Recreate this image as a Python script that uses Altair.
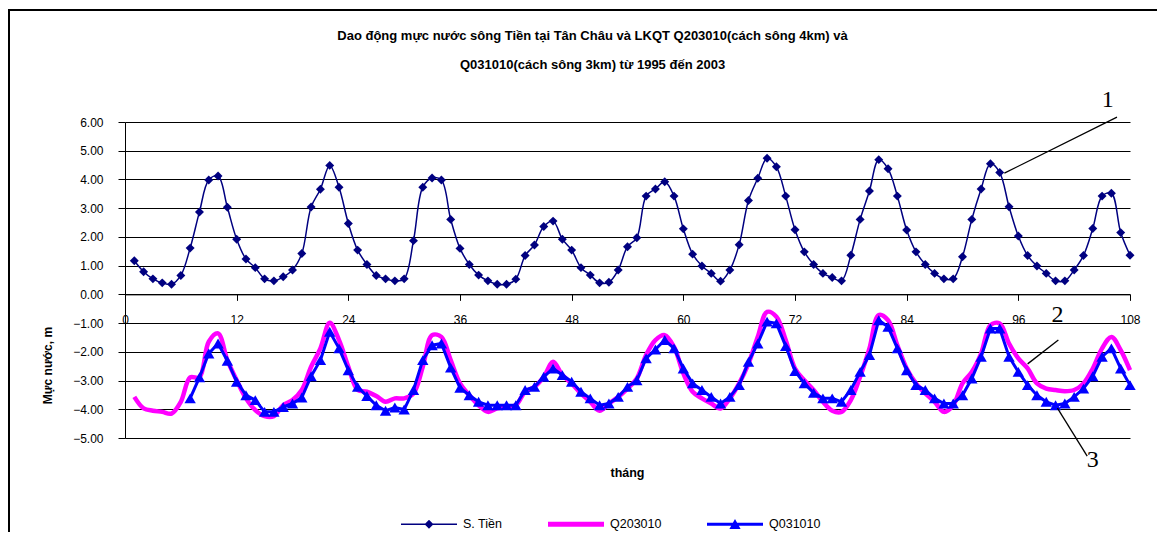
import altair as alt
import pandas as pd

# ---------------- data ----------------
months = list(range(1, 109))

tien = [1.17, 0.79, 0.54, 0.40, 0.35, 0.66, 1.61, 2.87, 3.98, 4.12,
        3.03, 1.92, 1.23, 0.93, 0.54, 0.47, 0.61, 0.85, 1.42, 3.04,
        3.66, 4.49, 3.73, 2.47, 1.54, 1.04, 0.66, 0.54, 0.47, 0.54,
        1.87, 3.73, 4.05, 3.98, 2.61, 1.60,
        1.04, 0.67, 0.47, 0.35, 0.35, 0.53, 1.35, 1.72, 2.36, 2.55,
        1.92, 1.54, 0.93, 0.67, 0.40, 0.42, 0.85, 1.66, 1.97, 3.42,
        3.67, 3.92, 3.42, 2.28, 1.40, 0.99, 0.73, 0.46, 0.85, 1.73,
        3.27, 4.04, 4.74, 4.44, 3.42, 2.25,
        1.48, 1.04, 0.73, 0.59, 0.47, 1.36, 2.61, 3.60, 4.69, 4.37,
        3.42, 2.24, 1.48, 1.04, 0.73, 0.54, 0.54, 1.31, 2.61, 3.67,
        4.55, 4.24, 3.05, 2.03, 1.35, 0.99, 0.73, 0.47, 0.47, 0.85,
        1.35, 2.29, 3.42, 3.52, 2.15, 1.36]

q203010 = [-3.57, -3.97, -4.05, -4.09, -4.15, -3.74, -2.89, -2.89, -1.65, -1.36,
           -2.29, -2.99, -3.62, -4.03, -4.24, -4.24, -3.86, -3.68, -3.33, -2.52,
           -1.88, -0.99, -1.59, -2.52, -3.33, -3.39, -3.54, -3.74, -3.62, -3.62,
           -3.45, -2.52, -1.42, -1.48, -2.29, -3.10,
           -3.51, -3.86, -4.09, -3.97, -3.92, -3.86, -3.39, -3.22, -2.87, -2.35,
           -2.81, -3.10, -3.45, -3.74, -4.05, -3.80, -3.57, -3.28, -2.93, -2.11,
           -1.59, -1.42, -1.83, -2.75, -3.39, -3.62, -3.80, -3.97, -3.62, -3.10,
           -2.41, -1.48, -0.61, -0.78, -1.59, -2.58,
           -2.99, -3.33, -3.74, -4.05, -4.09, -3.68, -2.87, -1.88, -0.72, -0.90,
           -1.77, -2.58, -3.10, -3.45, -3.74, -4.09, -3.86, -3.10, -2.70, -2.06,
           -1.07, -1.01, -1.71, -2.23, -2.58, -3.10, -3.28, -3.33, -3.37, -3.33,
           -3.10, -2.58, -1.88, -1.48, -1.94, -2.64]

q031010_months = list(range(7, 109))
q031010 = [-3.62, -2.89, -2.06, -1.71, -2.31, -3.04, -3.51, -3.68, -4.09, -4.09,
           -3.92, -3.80, -3.59, -2.85, -2.29, -1.30, -1.88, -2.64, -3.22, -3.54,
           -3.86, -4.05, -3.94, -4.01, -3.33, -2.29, -1.77, -1.71, -2.55, -3.25,
           -3.51, -3.74, -3.86, -3.86, -3.86, -3.86, -3.33, -3.22, -2.87, -2.58,
           -2.81, -3.04, -3.39, -3.62, -3.86, -3.80, -3.57, -3.22, -2.99, -2.23,
           -1.92, -1.59, -1.88, -2.58, -3.10, -3.33, -3.57, -3.80, -3.57, -3.16,
           -2.35, -1.71, -0.95, -1.01, -1.80, -2.67,
           -3.10, -3.43, -3.62, -3.62, -3.74, -3.33, -2.70, -2.11, -0.90, -1.13,
           -1.88, -2.64, -3.16, -3.33, -3.62, -3.80, -3.80, -3.51, -2.93, -2.17,
           -1.19, -1.19, -2.17, -2.70, -3.16, -3.51, -3.74, -3.86, -3.80, -3.57,
           -3.28, -2.85, -2.17, -1.88, -2.58, -3.16]

series_names = ["S. Tiền", "Q203010", "Q031010"]
series_colors = ["#000080", "#FF00FF", "#0000FF"]

x_ticks = list(range(0, 109, 12))
y_ticks = list(range(-5, 7))

title_lines = [
    "Dao động mực nước sông Tiền tại Tân Châu và LKQT Q203010(cách sông 4km) và",
    "Q031010(cách sông 3km) từ 1995 đến 2003",
]

annot_labels = ["1", "2", "3"]
annot_month = [105.6, 100.2, 104.0]
annot_value = [6.77, -0.72, -5.77]
lead_m1 = [94.5, 97.0, 100.2]
lead_v1 = [4.22, -2.42, -3.96]
lead_m2 = [106.6, 100.3, 103.4]
lead_v2 = [6.17, -1.59, -5.63]

# ---------------- tables ----------------
df_tien = pd.DataFrame({"month": months, "value": tien})
df_q2 = pd.DataFrame({"month": months, "value": q203010})
df_q3 = pd.DataFrame({"month": q031010_months, "value": q031010})
df_ann = pd.DataFrame({"label": annot_labels, "month": annot_month, "value": annot_value})
df_lead = pd.DataFrame({"month": lead_m1, "value": lead_v1, "m2": lead_m2, "v2": lead_v2})
df_leg = pd.DataFrame({"series": series_names, "month": [50, 50, 50], "value": [0, 0, 0]})
df_one = pd.DataFrame({"k": [0]})

FONT = "Liberation Sans"

xscale = alt.Scale(domain=[0, 108], nice=False, zero=False)
yscale = alt.Scale(domain=[-5, 6], nice=False, zero=False)

x_axis = alt.Axis(values=x_ticks, format="d", title="tháng", titleFontWeight="bold",
                  titleFontSize=12.5, titleX=502, titleY=178, titleBaseline="middle",
                  titleColor="black", labelFontSize=12, labelPadding=14, tickSize=6,
                  offset=-143.64, grid=False, domainColor="black", tickColor="black",
                  labelColor="black", labelFlush=False, labelOverlap=False)
y_axis = alt.Axis(values=y_ticks, format=".2f", title="Mực nước, m", titleFontWeight="bold",
                  titleFontSize=12, titleAngle=270, titleX=-78, titleY=243,
                  titleAlign="center", titleBaseline="middle", titleColor="black",
                  labelFontSize=12, labelPadding=15, tickSize=7, tickColor="black",
                  domainColor="black", gridColor="black", gridWidth=1, gridOpacity=1,
                  labelColor="black", grid=True)

X = alt.X("month:Q", scale=xscale, axis=x_axis)
Y = alt.Y("value:Q", scale=yscale, axis=y_axis)

tien_line = alt.Chart(df_tien).mark_line(color="#000080", strokeWidth=1.5,
                                         interpolate="catmull-rom").encode(x=X, y=Y)
tien_pts = alt.Chart(df_tien).mark_point(shape="diamond", filled=True, size=80,
                                         color="#000080", opacity=1).encode(x=X, y=Y)
q2_line = alt.Chart(df_q2).mark_line(color="#FF00FF", strokeWidth=4.5,
                                     interpolate="catmull-rom").encode(x=X, y=Y)
q3_line = alt.Chart(df_q3).mark_line(color="#0000FF", strokeWidth=3).encode(x=X, y=Y)
q3_pts = alt.Chart(df_q3).mark_point(shape="triangle-up", filled=True, size=130,
                                     color="#0000FF", opacity=1).encode(x=X, y=Y)

# legend (line + marker symbols as custom paths)
leg_paths = [
    "M-1,-0.027L1,-0.027L1,0.027L-1,0.027Z M-0.16,0L0,-0.16L0.16,0L0,0.16Z",
    "M-1,-0.09L1,-0.09L1,0.09L-1,0.09Z",
    "M-1,-0.054L1,-0.054L1,0.054L-1,0.054Z M-0.2,0.17L0,-0.19L0.2,0.17Z",
]
leg = alt.Legend(title=None, orient="none", legendX=276, legendY=374, direction="horizontal",
                 symbolSize=3136, symbolStrokeWidth=0, symbolOpacity=1, columnPadding=45,
                 labelFontSize=12.5, labelFont=FONT, labelColor="black", labelOffset=6,
                 padding=0)
legend_layer = alt.Chart(df_leg).mark_point(filled=True, opacity=0).encode(
    x=X, y=Y,
    color=alt.Color("series:N", scale=alt.Scale(domain=series_names, range=series_colors), legend=leg),
    shape=alt.Shape("series:N", scale=alt.Scale(domain=series_names, range=leg_paths), legend=leg),
)

# annotations
ann_text = alt.Chart(df_ann).mark_text(font="Liberation Serif", fontSize=24, color="black",
                                       align="center", baseline="middle").encode(
    x=X, y=Y, text="label:N")
ann_lines = alt.Chart(df_lead).mark_rule(color="black", strokeWidth=1.3).encode(
    x=X, y=Y, x2="m2:Q", y2="v2:Q")

# outer frame (left and top edges visible; right/bottom beyond the picture)
frame = alt.Chart(df_one).mark_rect(fillOpacity=0, stroke="black", strokeWidth=2).encode(
    x=alt.value(-116), x2=alt.value(1050), y=alt.value(-112), y2=alt.value(440))

chart = alt.layer(
    frame, tien_line, tien_pts, q2_line, q3_line, q3_pts,
    legend_layer, ann_lines, ann_text,
).properties(
    width=1005, height=316,
    padding={"left": 117, "top": 114, "right": 27, "bottom": 94},
    autosize=alt.AutoSizeParams(type="none"),
    title=alt.TitleParams(text=title_lines, font=FONT, fontSize=13, fontWeight="bold",
                          color="black", anchor="middle", frame="group", offset=-63,
                          lineHeight=29, dx=-35),
).configure(font=FONT).configure_view(strokeWidth=0)

chart.save("out.html", embed_options={"renderer": "svg", "actions": False})
